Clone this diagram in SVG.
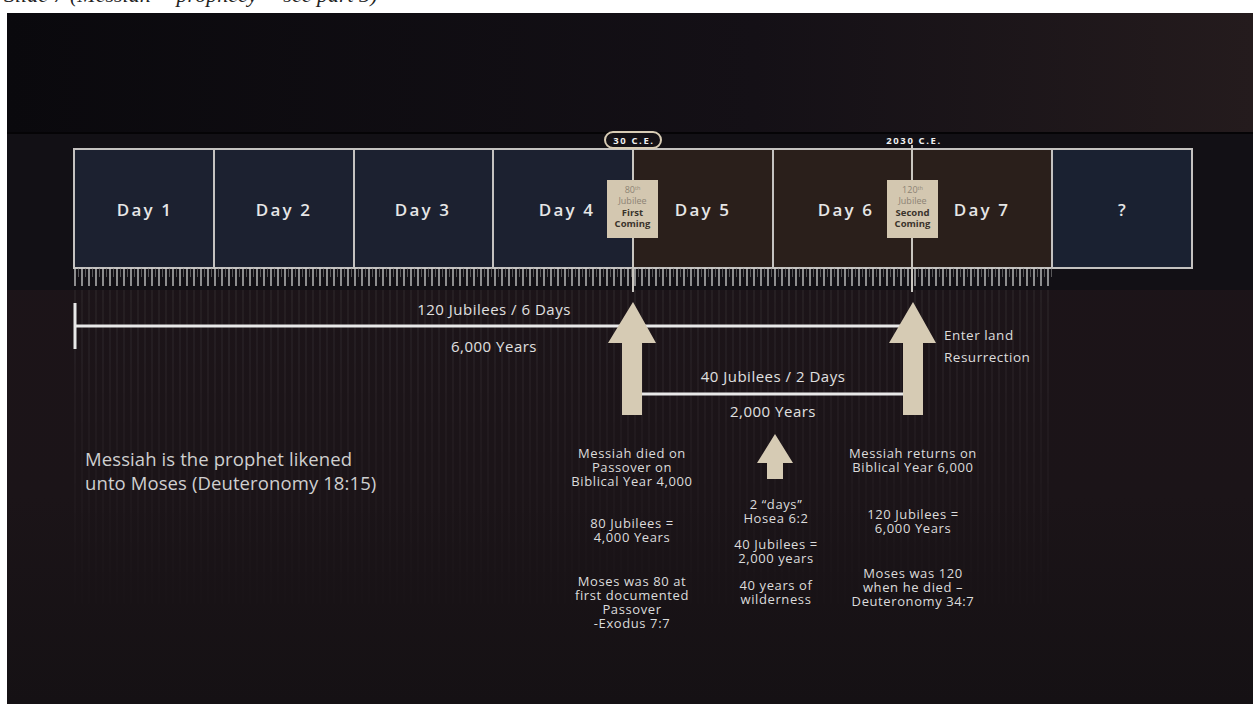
<svg xmlns="http://www.w3.org/2000/svg" width="1253" height="704" viewBox="0 0 1253 704">
<defs>
<style>
.day{stroke:#c4c2c0;stroke-width:2}
.navy{fill:#1c2130}
.brown{fill:#2a1f1b}
.dlabel{font-family:"Open Sans","DejaVu Sans",sans-serif;font-weight:600;font-size:17px;fill:#e6e6e6;letter-spacing:2.2px;text-anchor:middle}
.tag{fill:#d3c7b0}
.tagt{font-family:"Open Sans","DejaVu Sans",sans-serif;font-size:9px;text-anchor:middle;fill:#8c8374}
.tagb{font-family:"Open Sans","DejaVu Sans",sans-serif;font-size:9.5px;font-weight:700;text-anchor:middle;fill:#3a342c}
.t{font-family:"Open Sans","DejaVu Sans",sans-serif;font-size:13px;letter-spacing:0.6px;fill:#dcdcdc;text-anchor:middle}
.tm{font-family:"Open Sans","DejaVu Sans",sans-serif;font-size:15px;letter-spacing:0.5px;fill:#e0e0e0;text-anchor:middle}
.tl{font-family:"Open Sans","DejaVu Sans",sans-serif;font-size:13.5px;letter-spacing:0.5px;fill:#dcdcdc}
.big{font-family:"Open Sans","DejaVu Sans",sans-serif;font-size:18.5px;letter-spacing:0.1px;fill:#cfcfcf}
.ce{font-family:"Open Sans","DejaVu Sans",sans-serif;font-size:9.5px;font-weight:700;fill:#f0f0f0;letter-spacing:1.6px;text-anchor:middle}
.arrow{fill:#d6cbb4}
.wl{stroke:#e8e8e8;stroke-width:3;fill:none}
.vl{stroke:#c9c6c0;stroke-width:2}
</style>
<linearGradient id="topbg" x1="0" y1="0" x2="1" y2="0">
<stop offset="0" stop-color="#0a090d"/>
<stop offset="0.6" stop-color="#141016"/>
<stop offset="1" stop-color="#241b1d"/>
</linearGradient>
<linearGradient id="lowbg" x1="0" y1="0" x2="0" y2="1">
<stop offset="0" stop-color="#1d1419"/>
<stop offset="0.7" stop-color="#1b1418"/>
<stop offset="1" stop-color="#151114"/>
</linearGradient>
<pattern id="ticks" patternUnits="userSpaceOnUse" x="74" y="268" width="7" height="20">
<line x1="1" y1="0" x2="1" y2="18" stroke="#cfcfcf" stroke-width="1.3"/>
<line x1="4.5" y1="0" x2="4.5" y2="9" stroke="#8a8a8a" stroke-width="0.6"/>
</pattern>
<pattern id="stripes" patternUnits="userSpaceOnUse" x="74" y="290" width="7" height="10">
<line x1="1" y1="0" x2="1" y2="10" stroke="#ffffff" stroke-opacity="0.08" stroke-width="1.2"/>
</pattern>
<linearGradient id="fade" x1="0" y1="0" x2="0" y2="1">
<stop offset="0" stop-color="#fff" stop-opacity="1"/>
<stop offset="1" stop-color="#fff" stop-opacity="0"/>
</linearGradient>
<mask id="fm"><rect x="0" y="288" width="1253" height="360" fill="url(#fade)"/></mask>
</defs>

<rect x="0" y="0" width="1253" height="704" fill="#ffffff"/>
<text x="4" y="1.5" font-family="Liberation Serif, serif" font-style="italic" font-size="22" fill="#222">Slide 7 (Messiah = prophecy = see part 3)</text>

<rect x="7" y="13" width="1246" height="691" fill="url(#lowbg)"/>
<rect x="7" y="13" width="1246" height="120" fill="url(#topbg)"/>
<rect x="7" y="133" width="1246" height="157" fill="#121015"/>
<line x1="7" y1="133" x2="1253" y2="133" stroke="#050406" stroke-width="2"/>
<rect x="74" y="290" width="978" height="360" fill="url(#stripes)" mask="url(#fm)"/>

<g id="day1"><rect class="day navy" x="74" y="149" width="140" height="119"/><text class="dlabel" x="145" y="216">Day 1</text></g>
<g id="day2"><rect class="day navy" x="214" y="149" width="140" height="119"/><text class="dlabel" x="284" y="216">Day 2</text></g>
<g id="day3"><rect class="day navy" x="354" y="149" width="139" height="119"/><text class="dlabel" x="423" y="216">Day 3</text></g>
<g id="day4"><rect class="day navy" x="493" y="149" width="140" height="119"/><text class="dlabel" x="567" y="216">Day 4</text></g>
<g id="day5"><rect class="day brown" x="633" y="149" width="140" height="119"/><text class="dlabel" x="703" y="216">Day 5</text></g>
<g id="day6"><rect class="day brown" x="773" y="149" width="139" height="119"/><text class="dlabel" x="846" y="216">Day 6</text></g>
<g id="day7"><rect class="day brown" x="912" y="149" width="140" height="119"/><text class="dlabel" x="982" y="216">Day 7</text></g>
<g id="dayq"><rect class="day" fill="#1a2131" x="1052" y="149" width="140" height="119"/><text class="dlabel" x="1123" y="216">?</text></g>

<rect x="74" y="268" width="978" height="20" fill="url(#ticks)"/>

<g id="connectors">
<line class="vl" x1="633" y1="147" x2="633" y2="292"/>
<line class="vl" x1="912" y1="145" x2="912" y2="292"/>
<line class="wl" x1="75" y1="303" x2="75" y2="349"/>
<line class="wl" x1="75" y1="326" x2="905" y2="326"/>
<line class="wl" x1="642" y1="394" x2="903" y2="394"/>
<polygon class="arrow" points="633,302 656,343 642,343 642,415 622,415 622,343 608,343"/>
<polygon class="arrow" points="913,302 936,343 923,343 923,415 903,415 903,343 889,343"/>
<polygon class="arrow" points="775,434 793,463 783,463 783,479 767,479 767,463 757,463"/>
</g>

<g id="ce30"><rect x="605" y="132" width="56" height="16" rx="8" fill="#141116" stroke="#d8ccb5" stroke-width="2"/><text class="ce" x="634" y="143.5">30 C.E.</text></g>
<g id="ce2030"><text class="ce" x="914" y="144">2030 C.E.</text></g>

<g id="first-coming"><rect class="tag" x="607" y="180" width="51" height="58"/>
<text class="tagt" x="632.5" y="193">80<tspan font-size="5.5" dy="-3.5">th</tspan></text>
<text class="tagt" x="632.5" y="204">Jubilee</text>
<text class="tagb" x="632.5" y="215.5">First</text>
<text class="tagb" x="632.5" y="227">Coming</text></g>
<g id="second-coming"><rect class="tag" x="887" y="180" width="51" height="58"/>
<text class="tagt" x="912.5" y="193">120<tspan font-size="5.5" dy="-3.5">th</tspan></text>
<text class="tagt" x="912.5" y="204">Jubilee</text>
<text class="tagb" x="912.5" y="215.5">Second</text>
<text class="tagb" x="912.5" y="227">Coming</text></g>

<g id="span6000"><text class="tm" x="494" y="315">120 Jubilees / 6 Days</text><text class="tm" x="494" y="352">6,000 Years</text></g>
<g id="span2000"><text class="tm" x="773" y="382">40 Jubilees / 2 Days</text><text class="tm" x="773" y="417">2,000 Years</text></g>
<g id="enter"><text class="tl" x="944" y="340">Enter land</text><text class="tl" x="944" y="362">Resurrection</text></g>

<g id="moses-note"><text class="big" x="85" y="466">Messiah is the prophet likened</text><text class="big" x="85" y="490">unto Moses (Deuteronomy 18:15)</text></g>

<g id="col1">
<text class="t" x="632" y="458">Messiah died on</text>
<text class="t" x="632" y="472">Passover on</text>
<text class="t" x="632" y="486">Biblical Year 4,000</text>
<text class="t" x="632" y="528">80 Jubilees =</text>
<text class="t" x="632" y="542">4,000 Years</text>
<text class="t" x="632" y="586">Moses was 80 at</text>
<text class="t" x="632" y="600">first documented</text>
<text class="t" x="632" y="614">Passover</text>
<text class="t" x="632" y="628">-Exodus 7:7</text>
</g>
<g id="col2">
<text class="t" x="776" y="509">2 “days”</text>
<text class="t" x="776" y="523">Hosea 6:2</text>
<text class="t" x="776" y="549">40 Jubilees =</text>
<text class="t" x="776" y="563">2,000 years</text>
<text class="t" x="776" y="590">40 years of</text>
<text class="t" x="776" y="604">wilderness</text>
</g>
<g id="col3">
<text class="t" x="913" y="458">Messiah returns on</text>
<text class="t" x="913" y="472">Biblical Year 6,000</text>
<text class="t" x="913" y="519">120 Jubilees =</text>
<text class="t" x="913" y="533">6,000 Years</text>
<text class="t" x="913" y="578">Moses was 120</text>
<text class="t" x="913" y="592">when he died –</text>
<text class="t" x="913" y="606">Deuteronomy 34:7</text>
</g>
</svg>
